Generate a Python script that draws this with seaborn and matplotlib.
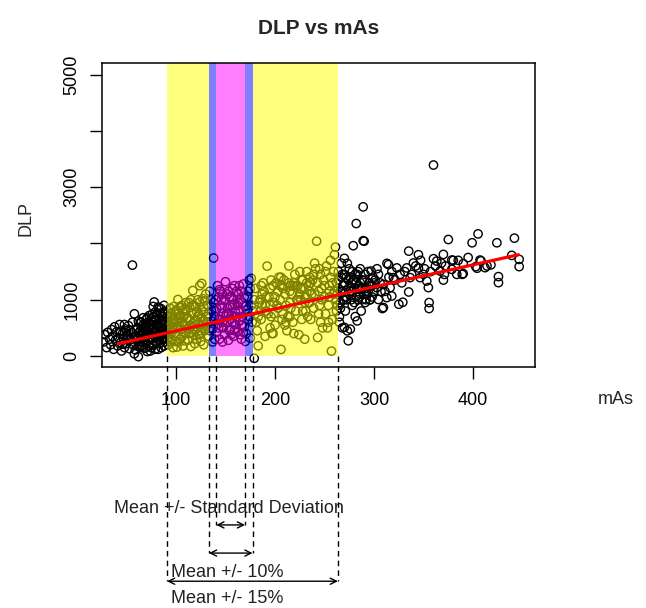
import matplotlib
matplotlib.use("Agg")
import matplotlib.pyplot as plt
import numpy as np
import seaborn as sns

# points, grouped by region (mAs, DLP)
left_mas = [27, 28, 30, 31, 33, 34, 35, 36, 37, 38,
            39, 40, 41, 42, 43, 44, 45, 46, 47, 48,
            49, 50, 51, 52, 53, 54, 55, 56, 57, 58,
            59, 60, 61, 62, 63, 64, 65, 66, 67, 68,
            69, 70, 71, 72, 73, 74, 75, 76, 77, 78,
            79, 80, 81, 82, 83, 84, 85, 86, 87, 88,
            64, 66, 68, 70, 72, 74, 76, 78, 80, 82,
            84, 86, 88, 89, 71, 73, 75, 77, 79, 81,
            83, 85, 87, 89, 61, 63, 65, 67, 69, 60,
            56, 58, 54, 52, 50, 48, 46, 44, 88, 86,
            78, 87, 85, 83, 81, 79, 77, 75, 58, 62,
            60, 62, 64, 66, 68, 70, 72, 74, 76, 78,
            80, 82, 84, 86, 88, 65, 69, 73, 77, 81,
            85, 89, 63, 67, 71, 75, 79, 83, 87, 50]
left_dlp = [250, 380, 150, 420, 300, 200, 470, 350, 120, 520,
            280, 430, 180, 330, 560, 240, 90, 400, 300, 150,
            480, 220, 360, 540, 130, 290, 420, 600, 200, 350,
            110, 460, 280, 620, 170, 380, 520, 240, 680, 330,
            140, 560, 420, 260, 720, 90, 470, 610, 190, 360,
            780, 250, 540, 120, 660, 400, 840, 300, 560, 180,
            450, 150, 500, 350, 600, 300, 740, 480, 650, 870,
            230, 700, 420, 620, 80, 180, 340, 880, 120, 440,
            300, 620, 760, 250, 500, 420, 180, 560, 400, 300,
            1615, 750, 450, 300, 380, 560, 210, 440, 900, 480,
            960, 330, 150, 500, 760, 650, 560, 150, 40, -10,
            350, 200, 600, 420, 280, 650, 500, 400, 300, 700,
            420, 550, 760, 640, 300, 600, 480, 520, 690, 330,
            450, 780, 260, 440, 680, 560, 400, 850, 480, 450]

band1_mas = [90, 91, 92, 93, 94, 95, 96, 97, 98, 99,
             100, 101, 102, 103, 104, 105, 106, 107, 108, 109,
             110, 111, 112, 113, 114, 115, 116, 117, 118, 119,
             120, 121, 122, 123, 124, 125, 126, 127, 128, 129,
             130, 92, 96, 100, 104, 108, 112, 116, 120, 124,
             128, 94, 98, 102, 106, 110, 114, 118, 122, 126,
             91, 95, 99, 103, 107, 111, 115, 119, 123, 127,
             93, 97, 101, 105, 109, 113, 117, 121, 125, 129,
             90, 92, 94, 96, 98, 100, 102, 104, 106, 108,
             110, 112, 114, 116, 118, 120, 122, 124, 126, 128,
             130, 95, 105, 115, 125]
band1_dlp = [400, 700, 200, 550, 850, 300, 650, 150, 480, 780,
             350, 600, 1004, 250, 720, 480, 900, 180, 560, 820,
             420, 680, 280, 950, 520, 170, 760, 1163, 380, 620,
             880, 300, 560, 740, 1250, 450, 1290, 620, 200, 980,
             520, 600, 420, 820, 300, 700, 480, 900, 640, 380,
             780, 250, 880, 520, 340, 950, 640, 460, 1000, 820,
             520, 760, 260, 640, 820, 540, 420, 220, 380, 1020,
             320, 590, 160, 860, 270, 400, 580, 780, 260, 450,
             600, 380, 700, 520, 650, 500, 750, 880, 600, 420,
             800, 680, 860, 540, 900, 470, 700, 960, 560, 880,
             1100, 450, 680, 1000, 680]

mid_mas = [131, 132, 133, 134, 135, 136, 137, 138, 139, 140,
           141, 142, 143, 144, 145, 146, 147, 148, 149, 150,
           151, 152, 153, 154, 155, 156, 157, 158, 159, 160,
           161, 162, 163, 164, 165, 166, 167, 168, 169, 170,
           171, 172, 173, 174, 175, 176, 133, 137, 142, 146,
           150, 154, 158, 162, 166, 170, 174, 135, 139, 144,
           148, 152, 156, 160, 164, 168, 172, 176, 140, 145,
           155, 165, 134, 157, 163, 147, 153, 167, 143, 159,
           132, 136, 138, 141, 143, 145, 147, 149, 151, 153,
           155, 157, 159, 161, 163, 165, 167, 169, 171, 173,
           175, 177, 146, 156, 166]
mid_dlp = [600, 900, 350, 1150, 500, 800, 250, 1741, 700, 1000,
           420, 1250, 650, 300, 900, 520, 1100, 760, 380, 1320,
           600, 850, 280, 1050, 480, 720, 1200, 350, 920, 560,
           1150, 440, 800, 620, 1000, 300, 700, 1280, 520, 880,
           400, 1050, 650, 1350, 320, 900, 750, 480, 560, 850,
           700, 450, 1000, 900, 550, 260, 700, 1000, 300, 1180,
           500, 1100, 380, 780, 1250, 420, 820, 1380, 800, 650,
           900, 380, 450, 600, 1100, 250, 750, 950, 1050, 1250,
           700, 620, 950, 850, 500, 1150, 600, 1000, 750, 1150,
           650, 900, 450, 700, 950, 800, 550, 1050, 900, 1150,
           1200, 600, 1000, 1050, 1150]

band2_mas = [178, 180, 182, 184, 186, 188, 190, 192, 194, 196,
             198, 200, 202, 204, 206, 208, 210, 212, 214, 216,
             218, 220, 222, 224, 226, 228, 230, 232, 234, 236,
             238, 240, 242, 244, 246, 248, 250, 252, 254, 256,
             258, 260, 179, 183, 187, 191, 195, 199, 203, 207,
             211, 215, 219, 223, 227, 231, 235, 239, 243, 247,
             251, 255, 259, 181, 185, 189, 193, 197, 201, 205,
             209, 213, 217, 221, 225, 229, 233, 237, 241, 245,
             249, 253, 257, 261, 186, 196, 206, 216, 226, 236,
             246, 256, 200, 210, 220, 230, 240, 250, 260, 190,
             214, 224, 234, 244, 254, 258, 228, 218, 208, 198,
             179, 183, 187, 191, 195, 199, 203, 207, 211, 215,
             219, 223, 227, 231, 235, 239, 243, 247, 251, 255,
             259, 185, 195, 205, 215, 225, 235, 245, 255, 232]
band2_dlp = [800, 1200, 450, 950, 650, 1300, 350, 1598, 1050, 700,
             1250, 550, 900, 1400, 118, 750, 1100, 450, 1300, 850,
             600, 1450, 1000, 380, 1200, 800, 300, 1500, 950, 650,
             1350, 1100, 2040, 750, 1450, 500, 1250, 1600, 900, 1400,
             650, 1150, -40, 182, 1100, 800, 500, 950, 1150, 650,
             900, 1150, 400, 1250, 650, 1050, 1400, 850, 330, 1200,
             750, 1050, 1500, 600, 1000, 1150, 750, 400, 1300, 1000,
             1350, 700, 1100, 800, 1500, 1200, 700, 1100, 1550, 900,
             1350, 500, 88, 1935, 1250, 1350, 1400, 1250, 1000, 1300,
             600, 1700, 1050, 550, 1250, 950, 1650, 1050, 1800, 900,
             1600, 1050, 1250, 1150, 600, 1300, 1350, 1250, 1200, 400,
             1000, 700, 900, 1050, 1200, 750, 850, 1250, 600, 950,
             1300, 1000, 1350, 800, 1150, 1450, 1300, 1000, 1500, 1250,
             1100, 800, 900, 1250, 700, 1100, 950, 1550, 1150, 1300]

edge_mas = [262, 263, 264, 265, 266, 267, 268, 269, 270, 271,
            272, 273, 274, 275, 276, 277, 278, 279, 280, 281,
            282, 283, 284, 285, 286, 287, 288, 289, 290, 291,
            292, 293, 294, 295, 296, 297, 298, 299, 300, 263,
            265, 267, 269, 271, 273, 275, 277, 279, 281, 283,
            285, 287, 289, 291, 264, 266, 268, 270, 272, 274,
            276, 278, 280, 282, 284, 286, 288, 262, 270, 290,
            262, 264, 266, 268, 270, 272, 274, 276, 278, 280,
            282, 284, 286, 288, 290, 292, 294, 296, 298, 300]
edge_dlp = [1300, 900, 1500, 700, 1150, 1650, 500, 1000, 1735, 800,
            1400, 1646, 271, 1100, 478, 1300, 900, 1960, 1200, 700,
            2354, 1450, 1000, 1250, 1550, 800, 1350, 2650, 1100, 1450,
            1200, 1097, 1500, 1300, 1000, 1510, 1250, 1400, 1150, 1100,
            600, 1400, 1250, 1050, 448, 1550, 1000, 1350, 1450, 624,
            1050, 1200, 2048, 950, 1200, 950, 1450, 510, 1050, 1350,
            1150, 1500, 950, 1300, 1200, 1100, 1000, 800, 1300, 2040,
            1000, 1350, 850, 1150, 1450, 1000, 1200, 1400, 1150, 1350,
            1050, 1500, 1300, 1200, 1350, 1000, 1150, 1250, 1050, 1300]

right_mas = [292.6, 296, 301, 302.7, 303, 304.4, 304.4, 306, 307, 308.4,
             309.4, 309.4, 311, 312.8, 313, 314.5, 315, 316.2, 317.9, 318,
             319.5, 321, 323, 325, 326.3, 328, 329, 331, 333, 335,
             335, 336.4, 338, 339.7, 342, 344.8, 344.8, 346.5, 347, 349.8,
             351, 353.2, 354.8, 355.6, 355.6, 357, 360, 360, 362, 363.3,
             366.7, 368, 370, 370, 371, 372, 375, 378.5, 378.5, 380,
             383.5, 385, 389, 390, 390, 395, 399, 402.7, 404, 405,
             407, 408, 412, 414, 418, 424, 425.6, 425.6, 439, 441.7,
             446.5, 446.5]
right_dlp = [1097, 1000, 1350, 1216, 1550, 1451, 1004, 1300, 1150, 844,
             1271, 862, 1150, 1038, 1646, 1624, 1400, 1216, 1067, 1500,
             1393, 1350, 1565, 920, 1451, 1300, 955, 1500, 1565, 1864,
             1138, 1393, 1450, 1653, 1600, 1800, 1565, 1393, 1700, 1451,
             1550, 1333, 1216, 950, 844, 1500, 1729, 3393, 1600, 1687,
             1510, 1650, 1805, 1350, 1450, 1600, 2070, 1540, 1705, 1700,
             1451, 1700, 1451, 1640, 1464, 1750, 2012, 1588, 1560, 2170,
             1705, 1690, 1570, 1600, 1620, 2012, 1411, 1304, 1788, 2094,
             1717, 1588]

# fitted line
fit_mas = [41.7, 445.8]
fit_dlp = [219, 1800]

# shaded ranges (mAs)
yellow_range = [91, 263.5]
blue_range = [133.3, 177.3]
pink_range = [140.7, 169.7]

# annotation arrows: range, depth (DLP) and label
arrow_ranges = [pink_range, blue_range, yellow_range]
arrow_depths = [-3000, -3500, -4000]
range_labels = ["Mean +/- Standard Deviation", "Mean +/- 10%", "Mean +/- 15%"]
label_pos = [(153, -2700), (152, -3840), (152, -4310)]

sns.set_style("ticks")
plt.rcParams["font.family"] = ["Liberation Sans", "DejaVu Sans"]

mas = np.concatenate([left_mas, band1_mas, mid_mas, band2_mas, edge_mas, right_mas])
dlp = np.concatenate([left_dlp, band1_dlp, mid_dlp, band2_dlp, edge_dlp, right_dlp])

fig = plt.figure(figsize=(6.46, 6.08), dpi=100)
ax = fig.add_axes([101.7 / 646, 1 - 367.3 / 608, 433.3 / 646, 304 / 608])

sns.scatterplot(x=mas, y=dlp, marker="o", s=36, facecolor="none",
                edgecolor="black", linewidth=1.0, ax=ax, zorder=1)

# translucent bands over the points, split so they do not stack
top = 6000
spans = [
    (yellow_range[0], blue_range[0], "#ffff00"),
    (blue_range[1], yellow_range[1], "#ffff00"),
    (blue_range[0], pink_range[0], "#0000ff"),
    (pink_range[1], blue_range[1], "#0000ff"),
    (pink_range[0], pink_range[1], "#ff00ff"),
]
for x0, x1, col in spans:
    ax.bar(x0, top, width=x1 - x0, bottom=0, align="edge", color=col,
           alpha=0.5, linewidth=0, zorder=2)

sns.lineplot(x=fit_mas, y=fit_dlp, color="red", lw=2.3, ax=ax, zorder=3)

ax.set_xlim(25, 462.5)
ax.set_ylim(-200, 5200)
ax.set_xticks([100, 200, 300, 400])
ax.set_yticks([0, 1000, 2000, 3000, 4000, 5000])
ax.set_yticklabels(["0", "1000", "", "3000", "", "5000"], rotation=90, va="center")
ax.tick_params(direction="out", length=8.5, width=1, colors="black",
               labelsize=13, pad=7)
ax.tick_params(axis="x", pad=9)
for sp in ax.spines.values():
    sp.set_color("black")
    sp.set_linewidth(1.1)
ax.set_xlabel("")
ax.set_ylabel("")

# dashed guides and double arrows below the plot
for (x0, x1), depth in zip(arrow_ranges, arrow_depths):
    for xv in (x0, x1):
        ax.plot([xv, xv], [0, depth], color="black", lw=1,
                ls=(0, (4, 3)), clip_on=False, zorder=4)
    ax.annotate("", xy=(x1, depth), xytext=(x0, depth),
                arrowprops=dict(arrowstyle="<->", lw=1, color="black",
                                mutation_scale=11, shrinkA=0, shrinkB=0),
                annotation_clip=False)
for text, (tx, ty) in zip(range_labels, label_pos):
    ax.text(tx, ty, text, ha="center", va="center", fontsize=13,
            color="#222222", clip_on=False)

fig.text(318.5 / 646, 1 - 28 / 608, "DLP vs mAs", ha="center", va="center",
         fontsize=15, fontweight="bold")
fig.text(25.5 / 646, 1 - 219 / 608, "DLP", rotation=90, ha="center",
         va="center", fontsize=13)
fig.text(616 / 646, 1 - 400 / 608, "mAs", ha="center", va="center", fontsize=13)

fig.savefig("out.png", dpi=100)
